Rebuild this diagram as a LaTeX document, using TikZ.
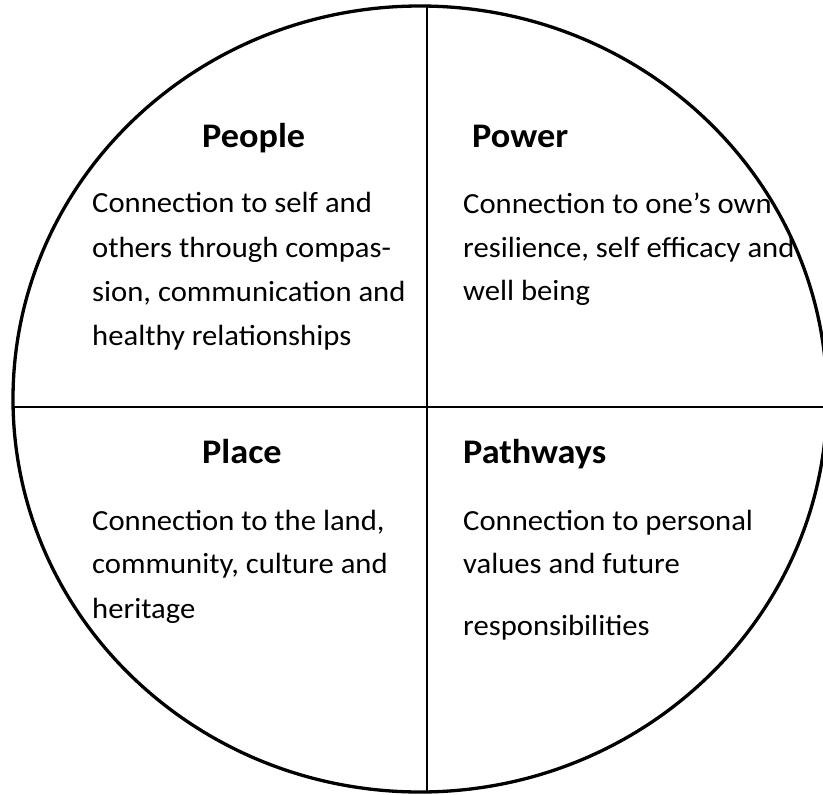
\documentclass[tikz,border=0pt]{standalone}
\usepackage{fontspec}
\setmainfont{Carlito}[FakeStretch=1.05]
\begin{document}
\begin{tikzpicture}[x=1pt,y=-1pt,
  body/.style={anchor=base west,inner sep=0pt,font=\fontsize{29.2}{35}\selectfont},
  ttl/.style={anchor=base west,inner sep=0pt,font=\bfseries\fontsize{34.5}{40}\selectfont},
  rim/.style={line width=3.3pt},
  divider/.style={line width=2.2pt}]
\useasboundingbox (0,0) rectangle (823,795);
\fill[white] (0,0) rectangle (823,795);
\draw[rim] (420,399) ellipse [x radius=407pt, y radius=393pt];
\coordinate (top) at (427,6);
\coordinate (bot) at (427,792);
\coordinate (lft) at (13,407);
\coordinate (rgt) at (830,407);
\draw[divider] (top) -- (bot);
\draw[divider] (lft) -- (rgt);
% People
\node[ttl] (tpeople) at (202,147) {People};
\node[body] (pe1) at (92,212) {Connection to self and};
\node[body] (pe2) at (92,257) {others through compas-};
\node[body] (pe3) at (92,301) {sion, communication and};
\node[body] (pe4) at (92,345) {healthy relationships};
% Power
\node[ttl] (tpower) at (472,147) {Power};
\node[body] (po1) at (463,213) {Connection to one’s own};
\node[body] (po2) at (463,257) {resilience, self efficacy and};
\node[body] (po3) at (463,300) {well being};
% Place
\node[ttl] (tplace) at (202,463) {Place};
\node[body] (pl1) at (92,530) {Connection to the land,};
\node[body] (pl2) at (92,573) {community, culture and};
\node[body] (pl3) at (92,618) {heritage};
% Pathways
\node[ttl] (tpath) at (463,463) {Pathways};
\node[body] (pa1) at (463,530) {Connection to personal};
\node[body] (pa2) at (463,573) {values and future};
\node[body] (pa3) at (463,635) {responsibilities};
\end{tikzpicture}
\end{document}
